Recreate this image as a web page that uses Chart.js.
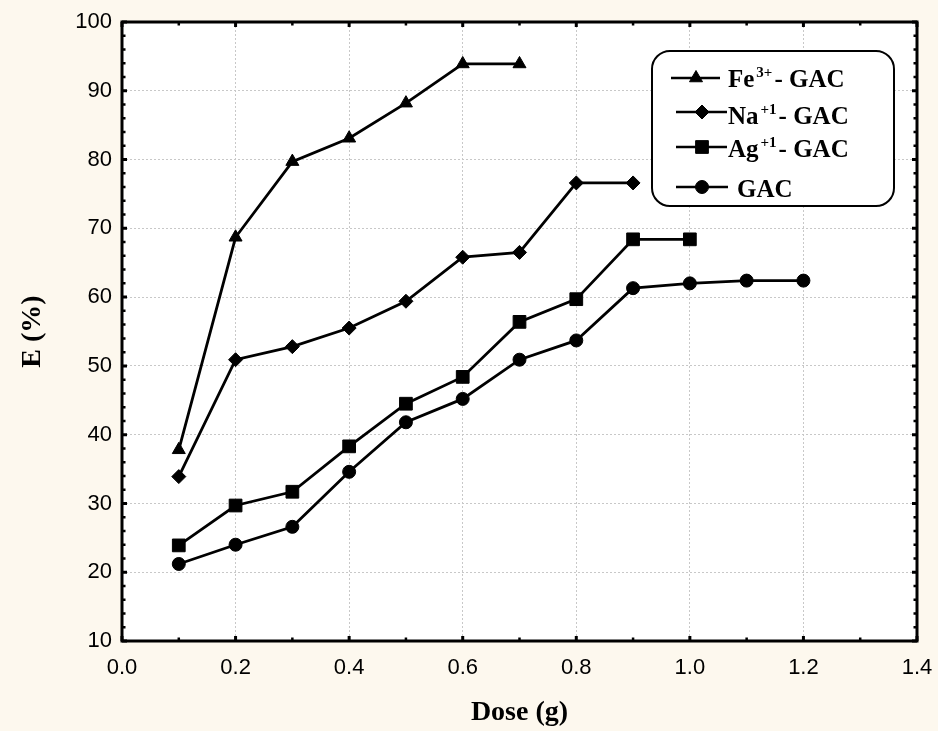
<!doctype html>
<html lang="en">
<head>
<meta charset="UTF-8">
<title>E (%) vs Dose (g)</title>
<script src="https://cdn.jsdelivr.net/npm/chart.js"></script>
<style>
  html, body { margin: 0; padding: 0; background: #fdf8ee; }
  #chart { display: block; }
</style>
</head>
<body>
<canvas id="chart" width="938" height="731"></canvas>
<script>
  // data
  const dose = [0.1, 0.2, 0.3, 0.4, 0.5, 0.6, 0.7, 0.8, 0.9, 1.0, 1.1, 1.2];
  const feGac = [37.8, 68.7, 79.7, 83.1, 88.2, 93.9, 93.9];
  const naGac = [33.9, 50.9, 52.8, 55.5, 59.4, 65.8, 66.5, 76.6, 76.6];
  const agGac = [23.9, 29.7, 31.7, 38.3, 44.5, 48.4, 56.4, 59.7, 68.4, 68.4];
  const gac = [21.2, 24.0, 26.6, 34.6, 41.8, 45.2, 50.9, 53.7, 61.3, 62.0, 62.4, 62.4];

  const xTickValues = [0, 0.2, 0.4, 0.6, 0.8, 1.0, 1.2, 1.4];
  const yTickValues = [10, 20, 30, 40, 50, 60, 70, 80, 90, 100];

  const seriesNames = ['Fe3+ - GAC', 'Na+1 - GAC', 'Ag+1 - GAC', 'GAC'];
  const legendText = [
    { main: 'Fe', sup: '3+', rest: '- GAC' },
    { main: 'Na', sup: '+1', rest: '- GAC' },
    { main: 'Ag', sup: '+1', rest: '- GAC' },
    { main: 'GAC', sup: '', rest: '' }
  ];

  const toPoints = vals => vals.map((v, i) => ({ x: dose[i], y: v }));

  function makeSet(label, vals, style, radius) {
    return {
      label: label,
      data: toPoints(vals),
      borderColor: '#000',
      backgroundColor: '#000',
      borderWidth: 2.8,
      pointStyle: style,
      pointRadius: radius,
      pointBorderWidth: 1,
      pointBackgroundColor: '#000',
      pointBorderColor: '#000',
      tension: 0
    };
  }

  // background, frame with inward ticks
  const framePlugin = {
    id: 'frame',
    beforeDraw(chart) {
      const { ctx, chartArea: a } = chart;
      ctx.save();
      ctx.fillStyle = '#fdf8ee';
      ctx.fillRect(0, 0, chart.width, chart.height);
      ctx.fillStyle = '#fff';
      ctx.fillRect(a.left, a.top, a.right - a.left, a.bottom - a.top);
      ctx.restore();
    },
    afterDraw(chart) {
      const { ctx, chartArea: a, scales } = chart;
      ctx.save();
      ctx.strokeStyle = '#000';
      ctx.lineCap = 'butt';
      // ticks along x (top and bottom)
      for (let i = 0; i <= 14; i++) {
        const px = scales.x.getPixelForValue(i / 10);
        const major = i % 2 === 0;
        const len = major ? 5 : 3.5;
        ctx.lineWidth = major ? 3 : 2.5;
        ctx.beginPath();
        ctx.moveTo(px, a.bottom); ctx.lineTo(px, a.bottom - len);
        ctx.moveTo(px, a.top); ctx.lineTo(px, a.top + len);
        ctx.stroke();
      }
      // ticks along y (left and right)
      for (let v = 10; v <= 100; v += 2) {
        const py = scales.y.getPixelForValue(v);
        const major = v % 10 === 0;
        const len = major ? 5 : 3.5;
        ctx.lineWidth = major ? 3 : 2.5;
        ctx.beginPath();
        ctx.moveTo(a.left, py); ctx.lineTo(a.left + len, py);
        ctx.moveTo(a.right, py); ctx.lineTo(a.right - len, py);
        ctx.stroke();
      }
      ctx.lineWidth = 3;
      ctx.strokeRect(a.left, a.top, a.right - a.left, a.bottom - a.top);
      ctx.restore();
    }
  };

  // legend box with superscripts
  const legendPlugin = {
    id: 'boxLegend',
    afterDraw(chart) {
      const ctx = chart.ctx;
      const box = { x: 652, y: 51, w: 242, h: 155, r: 18 };
      const rows = [
        { y: 78, x0: 671, x1: 720, mx: 696, tx: 728, base: 87 },
        { y: 112, x0: 676, x1: 727, mx: 702, tx: 728, base: 124 },
        { y: 147, x0: 676, x1: 727, mx: 702, tx: 728, base: 157 },
        { y: 187, x0: 676, x1: 728, mx: 702, tx: 737, base: 197 }
      ];
      ctx.save();
      ctx.beginPath();
      ctx.roundRect(box.x, box.y, box.w, box.h, box.r);
      ctx.fillStyle = '#fff';
      ctx.fill();
      ctx.lineWidth = 2;
      ctx.strokeStyle = '#000';
      ctx.stroke();

      chart.data.datasets.forEach((ds, i) => {
        const row = rows[i];
        ctx.strokeStyle = '#000';
        ctx.lineWidth = 2.5;
        ctx.beginPath();
        ctx.moveTo(row.x0, row.y);
        ctx.lineTo(row.x1, row.y);
        ctx.stroke();
        ctx.fillStyle = '#000';
        ctx.lineWidth = 1;
        Chart.helpers.drawPoint(ctx, {
          pointStyle: ds.pointStyle, radius: ds.pointRadius, rotation: 0, borderWidth: 1
        }, row.mx, row.y);

        const t = legendText[i];
        ctx.fillStyle = '#000';
        ctx.textBaseline = 'alphabetic';
        ctx.textAlign = 'left';
        ctx.font = 'bold 25px "Liberation Serif", "Times New Roman", serif';
        let x = row.tx;
        ctx.fillText(t.main, x, row.base);
        x += ctx.measureText(t.main).width + 2;
        if (t.sup) {
          ctx.font = 'bold 15px "Liberation Serif", "Times New Roman", serif';
          ctx.fillText(t.sup, x, row.base - 10);
          x += ctx.measureText(t.sup).width + 2;
          ctx.font = 'bold 25px "Liberation Serif", "Times New Roman", serif';
          ctx.fillText(t.rest, x, row.base);
        }
      });
      ctx.restore();
    }
  };

  const tickFont = { family: '"Liberation Sans", Arial, sans-serif', size: 22 };
  const titleFont = { family: '"Liberation Serif", "Times New Roman", serif', size: 28, weight: 'bold' };

  new Chart(document.getElementById('chart'), {
    type: 'line',
    data: {
      datasets: [
        makeSet(seriesNames[0], feGac, 'triangle', 7.5),
        makeSet(seriesNames[1], naGac, 'rectRot', 7),
        makeSet(seriesNames[2], agGac, 'rect', 9),
        makeSet(seriesNames[3], gac, 'circle', 6.5)
      ]
    },
    options: {
      responsive: false,
      animation: false,
      devicePixelRatio: 1,
      layout: { padding: { top: 22, right: 21, left: 0, bottom: 0 }, autoPadding: false },
      plugins: {
        legend: { display: false },
        tooltip: { enabled: false }
      },
      scales: {
        x: {
          type: 'linear',
          min: 0,
          max: 1.4,
          afterBuildTicks: s => { s.ticks = xTickValues.map(v => ({ value: v })); },
          afterFit: s => { s.height = 90; s.paddingLeft = 0; s.paddingRight = 0; },
          ticks: {
            color: '#000',
            font: tickFont,
            padding: 14,
            maxRotation: 0,
            callback: v => Number(v).toFixed(1)
          },
          grid: { color: '#c8c8c8', lineWidth: 1, drawTicks: false },
          border: { display: false, dash: [2, 2] },
          title: { display: true, text: 'Dose (g)', color: '#000', font: titleFont, padding: { top: 0, bottom: 1 } }
        },
        y: {
          min: 10,
          max: 100,
          afterBuildTicks: s => { s.ticks = yTickValues.map(v => ({ value: v })); },
          afterFit: s => { s.width = 122; s.paddingTop = 0; s.paddingBottom = 0; },
          ticks: { color: '#000', font: tickFont, padding: 10 },
          grid: { color: '#c8c8c8', lineWidth: 1, drawTicks: false },
          border: { display: false, dash: [2, 2] },
          title: { display: true, text: 'E (%)', color: '#000', font: titleFont, padding: { top: 16, bottom: 0 } }
        }
      }
    },
    plugins: [framePlugin, legendPlugin]
  });
</script>
</body>
</html>
